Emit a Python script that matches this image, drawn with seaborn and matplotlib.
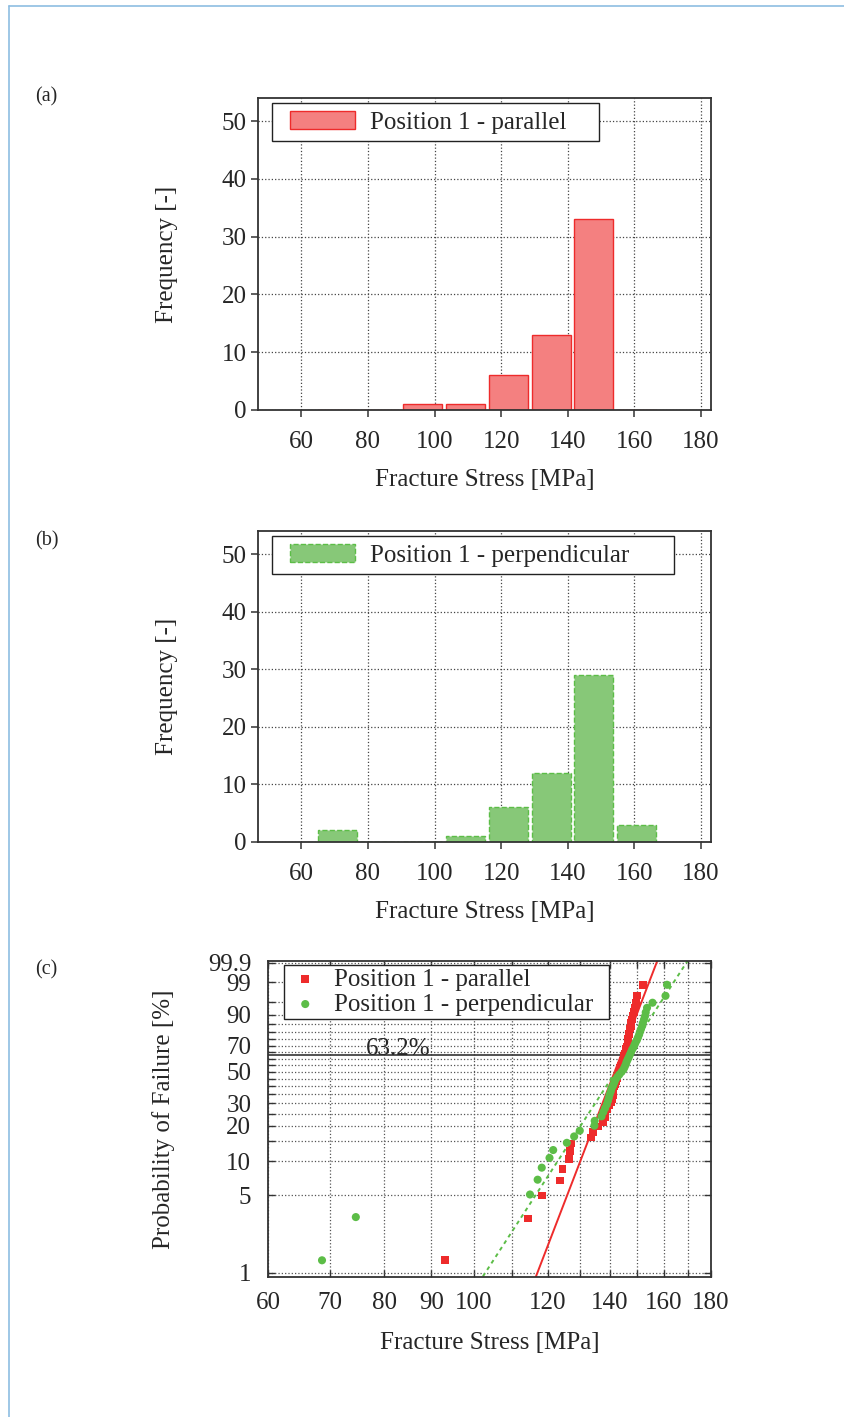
import numpy as np
import matplotlib
matplotlib.use('Agg')
import matplotlib.pyplot as plt
from matplotlib.lines import Line2D
from matplotlib.patches import Patch, Rectangle
from matplotlib.legend_handler import HandlerPatch
from matplotlib.ticker import FixedLocator, FixedFormatter, NullLocator
import seaborn as sns

# histogram bins [MPa] and counts
bin_edges = [64.3, 77.15, 90.0, 102.85, 115.7, 128.55, 141.4, 154.25, 167.1]
bin_centers = [70.7, 83.6, 96.4, 109.3, 122.1, 135.0, 147.8, 160.7]
parallel_counts = [0, 0, 1, 1, 6, 13, 33, 0]
perp_counts = [2, 0, 0, 1, 6, 12, 29, 3]

# Weibull plot: fracture stress [MPa] and probability of failure [%]
parallel_stress = [93.1, 114.4, 118.4, 123.8, 124.5, 126.6, 126.8, 127.4, 133.7, 134.4,
                   136.1, 137.8, 138.3, 138.5, 139.2, 140.0, 140.6, 140.9, 141.1, 141.2,
                   141.3, 141.6, 141.9, 142.2, 142.5, 142.8, 143.1, 143.4, 143.7, 144.0,
                   144.3, 144.6, 144.9, 145.1, 145.3, 145.6, 145.8, 146.1, 146.3, 146.5,
                   146.6, 146.7, 146.9, 147.1, 147.3, 147.5, 147.7, 147.9, 148.2, 148.6,
                   149.0, 149.4, 149.8, 152.1]
parallel_prob = [1.3, 3.1, 5.0, 6.8, 8.6, 10.5, 12.3, 14.2, 16.0, 17.8,
                 19.7, 21.5, 23.3, 25.2, 27.0, 28.9, 30.7, 32.5, 34.4, 36.2,
                 38.1, 39.9, 41.7, 43.6, 45.4, 47.2, 49.1, 50.9, 52.8, 54.6,
                 56.4, 58.3, 60.1, 61.9, 63.8, 65.6, 67.5, 69.3, 71.1, 73.0,
                 74.8, 76.7, 78.5, 80.3, 82.2, 84.0, 85.8, 87.7, 89.5, 91.4,
                 93.2, 95.0, 96.9, 98.7]
perp_stress = [68.6, 74.6, 114.9, 117.1, 118.3, 120.6, 121.7, 125.9, 128.2, 130.0,
               134.8, 134.9, 137.2, 137.8, 138.4, 139.0, 139.4, 139.7, 140.0, 140.4,
               140.7, 141.2, 141.6, 142.0, 142.7, 143.4, 144.2, 144.9, 145.3, 145.7,
               146.0, 146.4, 146.8, 147.2, 147.6, 148.0, 148.5, 148.9, 149.3, 149.8,
               150.2, 150.6, 150.9, 151.3, 151.7, 152.0, 152.4, 152.8, 153.1, 153.6,
               155.7, 160.8, 161.4]
perp_prob = [1.3, 3.2, 5.1, 6.9, 8.8, 10.7, 12.5, 14.4, 16.3, 18.2,
             20.0, 21.9, 23.8, 25.7, 27.5, 29.4, 31.3, 33.1, 35.0, 36.9,
             38.8, 40.6, 42.5, 44.4, 46.3, 48.1, 50.0, 51.9, 53.7, 55.6,
             57.5, 59.4, 61.2, 63.1, 65.0, 66.9, 68.7, 70.6, 72.5, 74.3,
             76.2, 78.1, 80.0, 81.8, 83.7, 85.6, 87.5, 89.3, 91.2, 93.1,
             94.9, 96.8, 98.7]

# Weibull fits: (modulus, characteristic stress)
parallel_fit = (22.1, 144.1)
perp_fit = (13.1, 146.1)

x_ticks = [60, 70, 80, 90, 100, 110, 120, 130, 140, 150, 160, 170, 180]
x_labels = ['60', '70', '80', '90', '100', '', '120', '', '140', '', '160', '', '180']
p_ticks = [1, 5, 10, 15, 20, 25, 30, 35, 40, 45, 50, 55, 60, 65, 70, 75, 80, 85, 90, 95, 99, 99.9]
p_labels = ['1', '5', '10', '', '20', '', '30', '', '', '', '50', '', '', '', '70', '', '', '', '90', '', '99', '99.9']

RED_FILL, RED = '#f48080', '#ee2b2b'
GREEN_FILL, GREEN = '#87c878', '#5cbd47'
FS = 18

sns.set_style('ticks')
plt.rcParams['font.family'] = ['Liberation Serif', 'DejaVu Serif']

fig = plt.figure(figsize=(8.45, 14.17), dpi=100)
W, H = 845, 1417


def px_axes(x0, y0, x1, y1):
    return fig.add_axes([x0 / W, 1 - y1 / H, (x1 - x0) / W, (y1 - y0) / H])


class InsetPatch(HandlerPatch):
    # legend swatch shifted right inside its handle box
    def __init__(self, shift, **kw):
        self.shift = shift
        super().__init__(**kw)

    def create_artists(self, legend, orig_handle, xdescent, ydescent, width, height,
                       fontsize, trans):
        r = Rectangle((-xdescent + self.shift, -ydescent), width - self.shift, height)
        self.update_prop(r, orig_handle, legend)
        r.set_transform(trans)
        return [r]


def hist_panel(ax, counts, face, edge, ls, label, pad_spaces):
    sns.histplot(x=bin_centers, weights=counts, bins=bin_edges, shrink=0.91,
                 color=face, edgecolor=edge, linestyle=ls, linewidth=1.0,
                 alpha=1, ax=ax)
    ax.set_xlim(47, 183)
    ax.set_ylim(0, 54)
    ax.set_xticks([60, 80, 100, 120, 140, 160, 180])
    ax.set_yticks([0, 10, 20, 30, 40, 50])
    ax.set_axisbelow(True)
    ax.grid(True, linestyle=':', color='#444444', linewidth=0.9)
    ax.tick_params(direction='out', length=5, width=1.1, labelsize=FS, color='#333333')
    ax.tick_params(axis='x', pad=10)
    ax.tick_params(axis='y', pad=3)
    for s in ax.spines.values():
        s.set_linewidth(1.3)
        s.set_color('#333333')
    ax.set_xlabel('Fracture Stress [MPa]', fontsize=FS, labelpad=12)
    ax.set_ylabel('Frequency [-]', fontsize=FS)
    ax.yaxis.set_label_coords(-0.176, 0.5)
    handle = Patch(facecolor=face, edgecolor=edge, linestyle=ls, linewidth=1.0)
    ax.legend([handle], [label + ' ' * pad_spaces], loc='upper left',
              bbox_to_anchor=(0.032, 0.983), borderaxespad=0, fontsize=FS,
              frameon=True, fancybox=False, edgecolor='#222222', framealpha=1,
              borderpad=0.3, handlelength=3.0, handleheight=0.75, handletextpad=0.6,
              handler_map={Patch: InsetPatch(7.5)})


ax_a = px_axes(258, 98, 711, 410)
hist_panel(ax_a, parallel_counts, RED_FILL, RED, '-', 'Position 1 - parallel', 4)
ax_b = px_axes(258, 531, 711, 842)
hist_panel(ax_b, perp_counts, GREEN_FILL, GREEN, '--', 'Position 1 - perpendicular', 6)

# Weibull probability plot


def weib_fwd(p):
    p = np.clip(np.asarray(p, dtype=float), 1e-6, 100 - 1e-9)
    return np.log(-np.log(1 - p / 100))


def weib_inv(y):
    return 100 * (1 - np.exp(-np.exp(y)))


ax_c = px_axes(268, 961, 711, 1277)
ax_c.set_xscale('log')
ax_c.set_yscale('function', functions=(weib_fwd, weib_inv))

for (m, s0), col, ls in [(parallel_fit, RED, '-'), (perp_fit, GREEN, (0, (2, 2)))]:
    xs = np.array([95.0, 175.0]) if col == GREEN else np.array([110.0, 160.0])
    ps = 100 * (1 - np.exp(-(xs / s0) ** m))
    ax_c.plot(xs, ps, color=col, linestyle=ls, linewidth=1.4, zorder=2)

sns.scatterplot(x=parallel_stress, y=parallel_prob, marker='s', color=RED, s=30,
                edgecolor='none', ax=ax_c, zorder=3, label='Position 1 - parallel')
sns.scatterplot(x=perp_stress, y=perp_prob, marker='o', color=GREEN, s=34,
                edgecolor='none', ax=ax_c, zorder=3, label='Position 1 - perpendicular')

ax_c.axhline(63.2, color='#333333', linewidth=1.2, zorder=2)
ax_c.text(76.4, 63.2, '63.2%', fontsize=FS, ha='left', va='baseline')

ax_c.set_xlim(60, 180)
ax_c.set_ylim(0.916, 99.923)
ax_c.xaxis.set_major_locator(FixedLocator(x_ticks))
ax_c.xaxis.set_major_formatter(FixedFormatter(x_labels))
ax_c.xaxis.set_minor_locator(NullLocator())
ax_c.yaxis.set_major_locator(FixedLocator(p_ticks))
ax_c.yaxis.set_major_formatter(FixedFormatter(p_labels))
ax_c.yaxis.set_minor_locator(NullLocator())
ax_c.set_axisbelow(True)
ax_c.grid(True, linestyle=':', color='#555555', linewidth=0.9)
ax_c.tick_params(direction='in', length=5, width=1.0, labelsize=FS, color='#333333',
                 top=True, right=True)
ax_c.tick_params(axis='x', pad=11)
ax_c.tick_params(axis='y', pad=12)
for s in ax_c.spines.values():
    s.set_linewidth(1.3)
    s.set_color('#333333')
ax_c.set_xlabel('Fracture Stress [MPa]', fontsize=FS, labelpad=13)
ax_c.set_ylabel('Probability of Failure [%]', fontsize=FS)
ax_c.yaxis.set_label_coords(-0.21, 0.5)
handles, labels = ax_c.get_legend_handles_labels()
ax_c.legend(handles, [l + '  ' for l in labels], loc='upper left',
            bbox_to_anchor=(0.035, 0.987), borderaxespad=0,
            fontsize=FS, frameon=True, fancybox=False, edgecolor='#222222',
            framealpha=1, borderpad=0.12, handlelength=1.5, handletextpad=0.4,
            labelspacing=0.1)

# panel labels
for lab, y in [('(a)', 97), ('(b)', 541), ('(c)', 970)]:
    fig.text(35 / W, 1 - y / H, lab, fontsize=14.5, ha='left', va='center')

# page frame
frame_col = '#8dbde2'
fig.add_artist(Line2D([9 / W, 9 / W], [0, 1 - 5.5 / H], transform=fig.transFigure,
                      color=frame_col, linewidth=1.2))
fig.add_artist(Line2D([9 / W, 1], [1 - 5.5 / H, 1 - 5.5 / H], transform=fig.transFigure,
                      color=frame_col, linewidth=1.2))

fig.savefig('out.png', dpi=100)
